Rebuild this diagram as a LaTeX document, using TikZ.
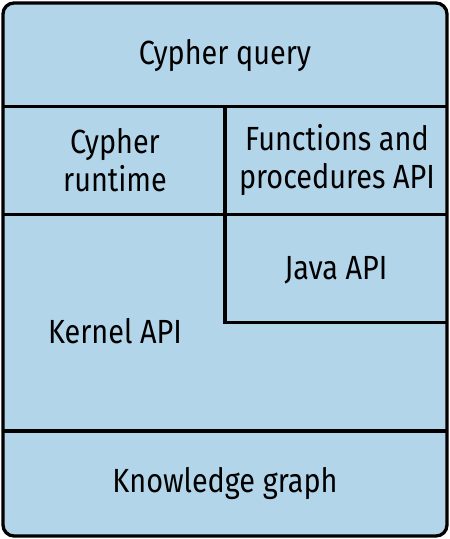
\documentclass[tikz,border=0pt]{standalone}
\usepackage{fontspec}
\setmainfont[FakeStretch=0.86]{Fira Sans}
\definecolor{boxblue}{HTML}{B3D5EA}
\begin{document}
\begin{tikzpicture}[x=1pt,y=-1pt,
  edge/.style={line width=3.3pt, line cap=butt},
  lbl/.style={font=\fontsize{33.5}{38}\selectfont, align=center, inner sep=0pt}]
\useasboundingbox (0,0) rectangle (450,539);
\draw[fill=boxblue, line width=3.3pt, rounded corners=11pt] (3,3) rectangle (447,536);
\draw[edge] (3,106.5) -- (447,106.5);
\draw[edge] (3,214.5) -- (447,214.5);
\draw[edge] (3,431) -- (447,431);
\draw[edge] (225,106.5) -- (225,323);
\draw[edge] (223.4,322.5) -- (447,322.5);
\node[lbl] (q) at (225,56) {Cypher query};
\node[lbl] (rt) at (115,160) {Cypher\\runtime};
\node[lbl] (fp) at (337,160) {Functions and\\procedures API};
\node[lbl] (java) at (336,270) {Java API};
\node[lbl] (kern) at (115,331) {Kernel API};
\node[lbl] (kg) at (225,483) {Knowledge graph};
\end{tikzpicture}
\end{document}
